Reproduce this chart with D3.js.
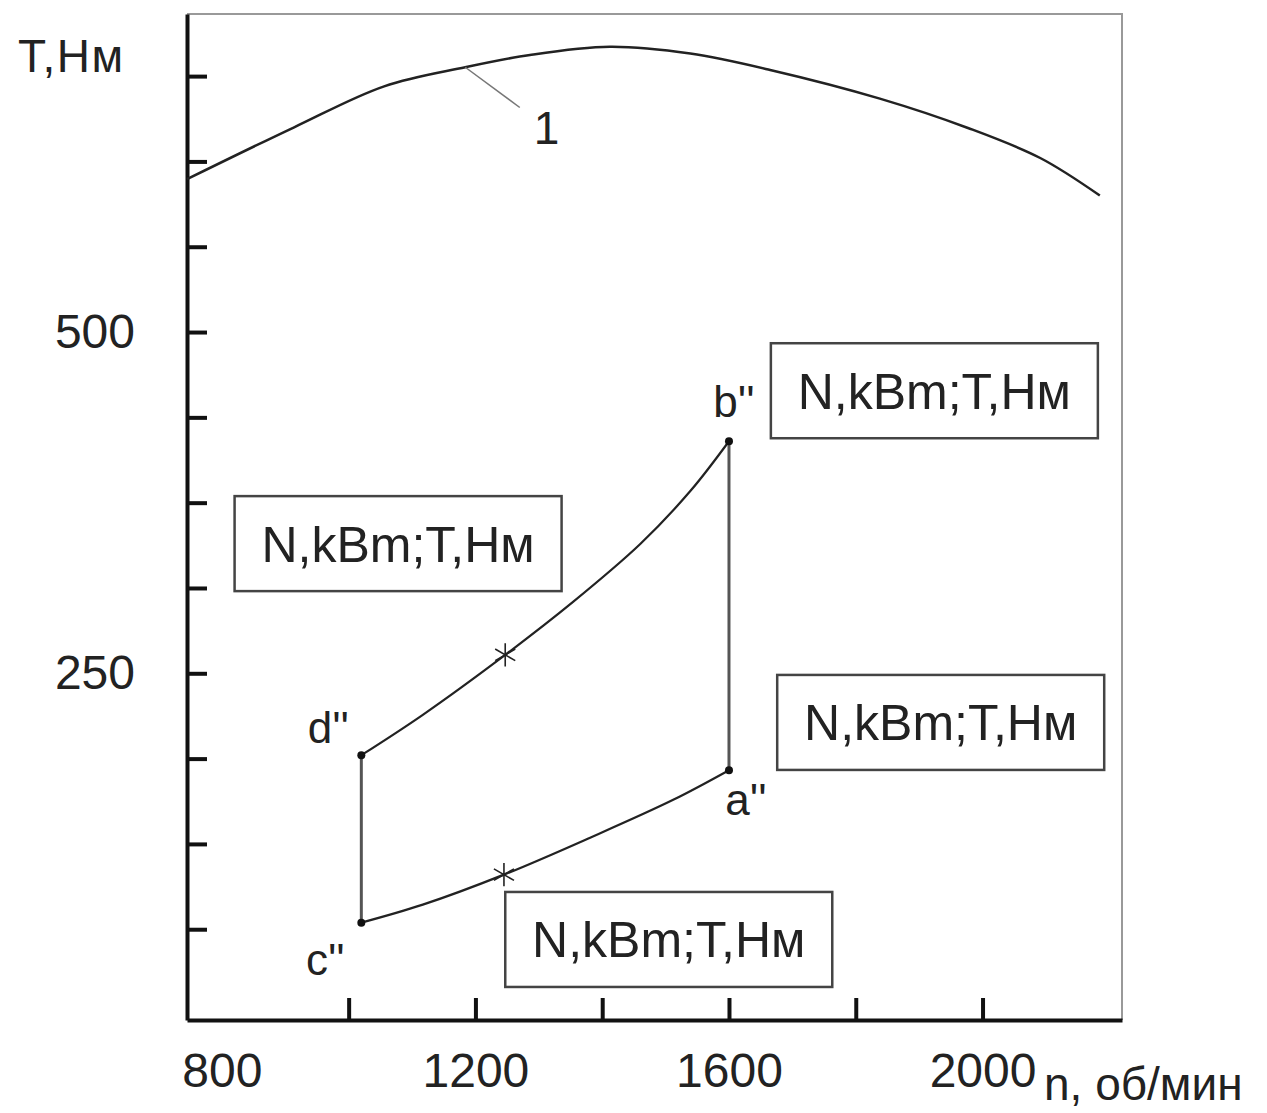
<!DOCTYPE html>
<html>
<head>
<meta charset="utf-8">
<script src="https://cdn.jsdelivr.net/npm/d3@7"></script>
<style>
  body { margin: 0; background: #fff; }
  text { font-family: "Liberation Sans", Arial, sans-serif; fill: #222; }
</style>
</head>
<body>
<div id="chart"></div>
<script>
// curve 1 - torque of the engine, T (Nm) vs n (rpm)
const curve1 = [[745, 612], [914, 650], [1056, 680], [1184, 694], [1286, 703], [1412, 709],
  [1539, 704], [1665, 692], [1838, 671], [1977, 649.5], [2091, 627.5], [2185, 600]]
// d'' -> b''
const upperCurve = [[1020, 190], [1117, 219.6], [1247, 263.5], [1354, 302.3], [1460, 344.7], [1539, 383.5], [1600, 420]]
// c'' -> a''
const lowerCurve = [[1020, 67.3], [1117, 80.5], [1245, 102.5], [1381, 129.6], [1512, 157.3], [1600, 179]]
const stars = [[1247, 263.5], [1245, 102.5]]
const corners = [
  { name: "a''", n: 1600, T: 179, dx: 17, dy: 45 },
  { name: "b''", n: 1600, T: 420, dx: 5, dy: -24 },
  { name: "c''", n: 1020, T: 67.3, dx: -36, dy: 52 },
  { name: "d''", n: 1020, T: 190, dx: -33, dy: -12 }
]
const boxes = [[1924, 457], [1078, 345], [1934, 214], [1505, 55]]
const boxText = "N,kBm;T,Нм"

const xTicks = [1000, 1200, 1400, 1600, 1800, 2000]
const xLabels = [800, 1200, 1600, 2000]
const yTicks = [62.5, 125, 187.5, 250, 312.5, 375, 437.5, 500, 562.5, 625, 687.5]
const yLabels = [250, 500]

/* ---------------- set-up ---------------- */
const width = 1267, height = 1113
const plot = { left: 187, top: 14, right: 1122, bottom: 1020 }

const x = d3.scaleLinear().domain([745, 2220]).range([plot.left, plot.right])
const y = d3.scaleLinear().domain([-4, 733]).range([plot.bottom, plot.top])

const svg = d3.select("#chart").append("svg")
  .attr("width", width)
  .attr("height", height)

// frame: thin grey top/right
svg.append("path")
  .attr("d", `M${plot.left},${plot.top}H${plot.right}V${plot.bottom}`)
  .attr("fill", "none")
  .attr("stroke", "#999")
  .attr("stroke-width", 2)

/* ---------------- axes ---------------- */
const xAxis = svg.append("g")
  .attr("transform", `translate(0,${plot.bottom})`)
  .call(d3.axisTop(x).tickValues(xTicks).tickSize(22).tickSizeOuter(0).tickFormat(""))
xAxis.select(".domain").attr("stroke", "#111").attr("stroke-width", 4)
xAxis.selectAll(".tick line").attr("stroke", "#111").attr("stroke-width", 4)

svg.append("g")
  .attr("transform", `translate(0,${plot.bottom})`)
  .call(d3.axisBottom(x).tickValues(xLabels).tickSize(0).tickPadding(33).tickFormat(d3.format("d")))
  .call(g => g.select(".domain").remove())
  .selectAll("text")
  .style("font-size", "48px")
  .attr("fill", "#222")

const yAxis = svg.append("g")
  .attr("transform", `translate(${plot.left},0)`)
  .call(d3.axisRight(y).tickValues(yTicks).tickSize(20).tickSizeOuter(0).tickFormat(""))
yAxis.select(".domain").attr("stroke", "#111").attr("stroke-width", 4)
yAxis.selectAll(".tick line").attr("stroke", "#111").attr("stroke-width", 4)

svg.append("g")
  .attr("transform", `translate(${plot.left},0)`)
  .call(d3.axisLeft(y).tickValues(yLabels).tickSize(0).tickPadding(52).tickFormat(d3.format("d")))
  .call(g => g.select(".domain").remove())
  .selectAll("text")
  .style("font-size", "48px")
  .attr("fill", "#222")

// axis titles
svg.append("text")
  .attr("x", 18).attr("y", 72)
  .style("font-size", "46px")
  .style("letter-spacing", "1.5px")
  .text("T,Нм")

svg.append("text")
  .attr("x", 1044).attr("y", 1100)
  .style("font-size", "46px")
  .text("n, об/мин")

/* ---------------- curves ---------------- */
const line = d3.line()
  .x(d => x(d[0]))
  .y(d => y(d[1]))
  .curve(d3.curveCatmullRom.alpha(0.5))

svg.append("path")
  .datum(curve1)
  .attr("d", line)
  .attr("fill", "none")
  .attr("stroke", "#222")
  .attr("stroke-width", 2.5)

// label "1" with leader
const leadFrom = [1184, 694], leadTo = [1270, 664.5]
svg.append("line")
  .attr("x1", x(leadFrom[0])).attr("y1", y(leadFrom[1]))
  .attr("x2", x(leadTo[0])).attr("y2", y(leadTo[1]))
  .attr("stroke", "#777")
  .attr("stroke-width", 1.5)
svg.append("text")
  .attr("x", x(leadTo[0]) + 14).attr("y", y(leadTo[1]) + 36)
  .style("font-size", "46px")
  .text("1")

// vertical sides of the cycle
svg.selectAll("line.side")
  .data([[corners[2], corners[3]], [corners[0], corners[1]]])
  .enter().append("line")
  .attr("class", "side")
  .attr("x1", d => x(d[0].n)).attr("y1", d => y(d[0].T))
  .attr("x2", d => x(d[1].n)).attr("y2", d => y(d[1].T))
  .attr("stroke", "#555")
  .attr("stroke-width", 3)

svg.selectAll("path.cycle")
  .data([upperCurve, lowerCurve])
  .enter().append("path")
  .attr("class", "cycle")
  .attr("d", line)
  .attr("fill", "none")
  .attr("stroke", "#222")
  .attr("stroke-width", 2.2)

// asterisk markers
svg.selectAll("path.star")
  .data(stars)
  .enter().append("path")
  .attr("class", "star")
  .attr("transform", d => `translate(${x(d[0])},${y(d[1])})`)
  .attr("d", d3.symbol().type(d3.symbolAsterisk).size(380))
  .attr("fill", "none")
  .attr("stroke", "#222")
  .attr("stroke-width", 1.6)

// corner dots + names
svg.selectAll("circle.corner")
  .data(corners)
  .enter().append("circle")
  .attr("class", "corner")
  .attr("cx", d => x(d.n)).attr("cy", d => y(d.T))
  .attr("r", 4)
  .attr("fill", "#111")

svg.selectAll("text.corner")
  .data(corners)
  .enter().append("text")
  .attr("class", "corner")
  .attr("x", d => x(d.n) + d.dx).attr("y", d => y(d.T) + d.dy)
  .attr("text-anchor", "middle")
  .style("font-size", "44px")
  .text(d => d.name)

/* ---------------- label boxes ---------------- */
const boxW = 327, boxH = 95
const box = svg.selectAll("g.box")
  .data(boxes)
  .enter().append("g")
  .attr("class", "box")
  .attr("transform", d => `translate(${x(d[0])},${y(d[1])})`)

box.append("rect")
  .attr("x", -boxW / 2).attr("y", -boxH / 2)
  .attr("width", boxW).attr("height", boxH)
  .attr("fill", "#fff")
  .attr("stroke", "#444")
  .attr("stroke-width", 2.5)

box.append("text")
  .attr("text-anchor", "middle")
  .attr("y", 18)
  .style("font-size", "50px")
  .text(boxText)
</script>
</body>
</html>
